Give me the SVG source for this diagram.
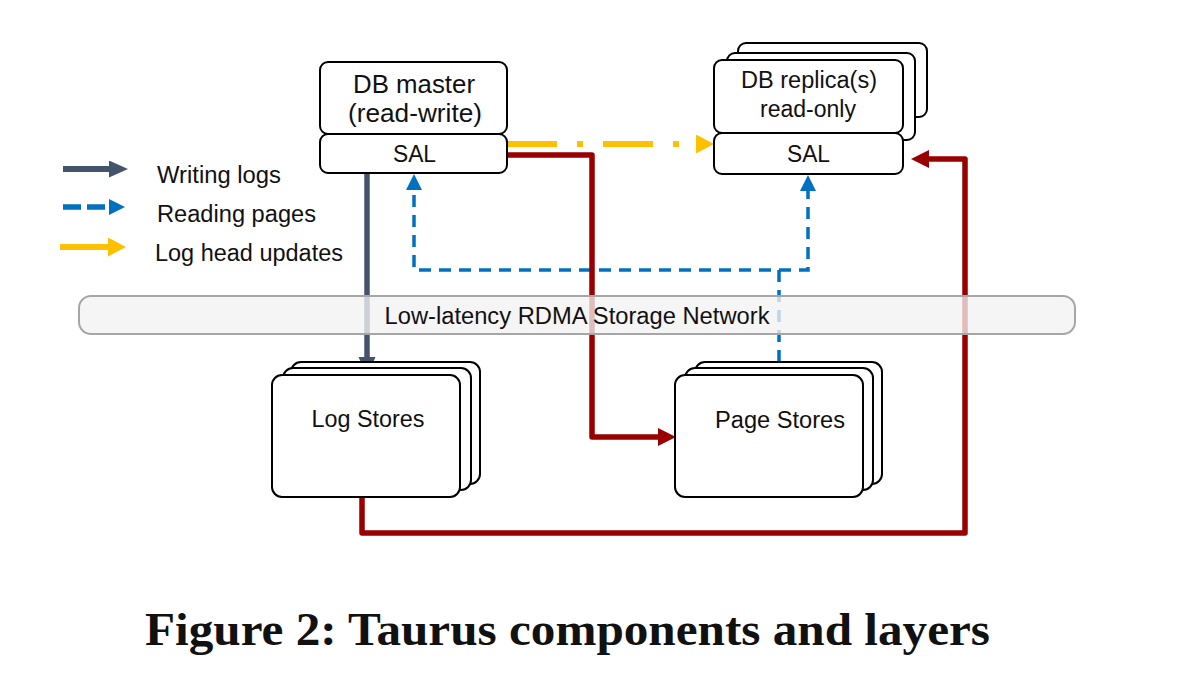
<svg xmlns="http://www.w3.org/2000/svg" width="1204" height="680" viewBox="0 0 1204 680">
<style>
.box{fill:#fff;stroke:#000;stroke-width:2}
.t{font-family:"Liberation Sans",Arial,sans-serif;fill:#111;text-anchor:middle}
.lt{font-family:"Liberation Sans",Arial,sans-serif;fill:#111;font-size:23px}
.dark{fill:none;stroke:#44546A;stroke-width:5.5}
.blue{fill:none;stroke:#0070C0;stroke-width:3.5;stroke-dasharray:12 8}
.red{fill:none;stroke:#990000;stroke-width:5.5;stroke-linejoin:round}
.yel{fill:none;stroke:#FFC000;stroke-width:6}
</style>
<defs>
<marker id="aDark" markerUnits="userSpaceOnUse" markerWidth="20" markerHeight="18" refX="0" refY="8.5" orient="auto"><path d="M0,0 L19,8.5 L0,17 z" fill="#44546A"/></marker>
<marker id="aBlue" markerUnits="userSpaceOnUse" markerWidth="20" markerHeight="18" refX="0" refY="8" orient="auto"><path d="M0,0 L16,8 L0,16 z" fill="#0070C0"/></marker>
<marker id="aYel" markerUnits="userSpaceOnUse" markerWidth="20" markerHeight="20" refX="0" refY="9.5" orient="auto"><path d="M0,0 L18,9.5 L0,19 z" fill="#FFC000"/></marker>
<marker id="aRed" markerUnits="userSpaceOnUse" markerWidth="20" markerHeight="20" refX="0" refY="9" orient="auto"><path d="M0,0 L18,9 L0,18 z" fill="#990000"/></marker>
</defs>
<rect width="1204" height="680" fill="#fff"/>

<g id="legend">
<line class="dark" x1="63" y1="169" x2="109" y2="169" marker-end="url(#aDark)" style="stroke-width:6"/>
<line class="blue" x1="63" y1="207" x2="109" y2="207" marker-end="url(#aBlue)" style="stroke-width:5.5;stroke-dasharray:18 6"/>
<line class="yel" x1="60" y1="247" x2="108" y2="247" marker-end="url(#aYel)"/>
<text class="lt" x="157" y="183" textLength="124" lengthAdjust="spacingAndGlyphs">Writing logs</text>
<text class="lt" x="157" y="222" textLength="159" lengthAdjust="spacingAndGlyphs">Reading pages</text>
<text class="lt" x="155" y="261" textLength="188" lengthAdjust="spacingAndGlyphs">Log head updates</text>
</g>

<g id="connectors">
<line class="dark" x1="367" y1="173" x2="367" y2="357" marker-end="url(#aDark)"/>
<path class="blue" d="M779,362 V270 H414 V190" marker-end="url(#aBlue)"/>
<path class="blue" d="M779,270 H808 V191" marker-end="url(#aBlue)"/>
<path class="yel" d="M507,144 H696" style="stroke-dasharray:50 20 6 20" marker-end="url(#aYel)"/>
<path class="red" d="M507,155 H592 V437 H658" marker-end="url(#aRed)"/>
<path class="red" d="M362,497 V533 H965 V159 H929" marker-end="url(#aRed)"/>
</g>

<g id="network">
<rect x="79" y="296" width="996" height="38" rx="12" fill="#f2f2f2" fill-opacity="0.78" stroke="#a6a6a6" stroke-width="2"/>
<text class="t" x="577" y="324" font-size="23" textLength="385" lengthAdjust="spacingAndGlyphs">Low-latency RDMA Storage Network</text>
</g>

<g id="db-master">
<rect class="box" x="320" y="62" width="187" height="72" rx="8"/>
<rect class="box" x="320" y="134" width="187" height="39" rx="8"/>
<text class="t" x="414" y="93" font-size="26" textLength="122" lengthAdjust="spacingAndGlyphs">DB master</text>
<text class="t" x="415" y="122" font-size="26" textLength="134" lengthAdjust="spacingAndGlyphs">(read-write)</text>
<text class="t" x="414.5" y="162" font-size="23" textLength="43" lengthAdjust="spacingAndGlyphs">SAL</text>
</g>

<g id="db-replica">
<rect class="box" x="738" y="43" width="189" height="74" rx="8"/>
<rect class="box" x="727" y="53" width="188" height="87" rx="8"/>
<rect class="box" x="714" y="60" width="189" height="73" rx="8"/>
<rect class="box" x="714" y="133" width="189" height="41" rx="8"/>
<text class="t" x="809" y="88" font-size="23.5" textLength="136" lengthAdjust="spacingAndGlyphs">DB replica(s)</text>
<text class="t" x="808" y="117" font-size="23.5" textLength="96" lengthAdjust="spacingAndGlyphs">read-only</text>
<text class="t" x="808.5" y="162" font-size="23" textLength="43" lengthAdjust="spacingAndGlyphs">SAL</text>
</g>

<g id="log-stores">
<rect class="box" x="291" y="362" width="189" height="122" rx="10"/>
<rect class="box" x="283" y="368" width="188" height="122" rx="10"/>
<rect class="box" x="272" y="375" width="188" height="122" rx="10"/>
<text class="t" x="368" y="427" font-size="23.5" textLength="113" lengthAdjust="spacingAndGlyphs">Log Stores</text>
</g>

<g id="page-stores">
<rect class="box" x="695" y="362" width="187" height="122" rx="10"/>
<rect class="box" x="685" y="368" width="188" height="122" rx="10"/>
<rect class="box" x="675" y="375" width="188" height="122" rx="10"/>
<text class="t" x="780" y="428" font-size="23.5" textLength="130" lengthAdjust="spacingAndGlyphs">Page Stores</text>
</g>

<text x="145" y="645" font-family="'Liberation Serif','Times New Roman',serif" font-weight="bold" font-size="46" fill="#111" textLength="845" lengthAdjust="spacingAndGlyphs">Figure 2: Taurus components and layers</text>
</svg>
